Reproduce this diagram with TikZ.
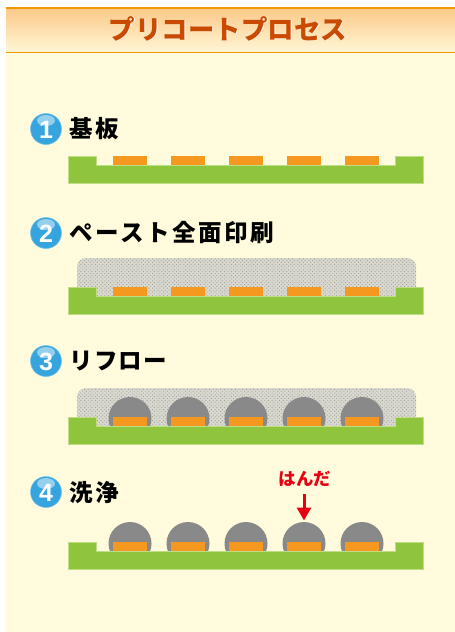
\documentclass[tikz,border=0pt]{standalone}
\usepackage{fontspec}
\setmainfont{Noto Sans CJK JP}
\newfontfamily\headfont[LetterSpace=9]{Noto Sans CJK JP}
\newfontfamily\headwide[LetterSpace=11]{Noto Sans CJK JP}
\newfontfamily\headtight[LetterSpace=6]{Noto Sans CJK JP}
\newfontfamily\numfont{Liberation Sans}
\usetikzlibrary{patterns.meta,arrows.meta}
\definecolor{panelbg}{HTML}{FFFBDC}
\definecolor{titleline}{HTML}{F39800}
\definecolor{titletop}{HTML}{FBC987}
\definecolor{titlebot}{HTML}{FFF6D6}
\definecolor{titletxt}{HTML}{C94A00}
\definecolor{board}{HTML}{8FC43D}
\definecolor{boardedge}{HTML}{BFDD85}
\definecolor{pad}{HTML}{F4981F}
\definecolor{solder}{HTML}{898989}
\definecolor{pastebg}{HTML}{DAD9CF}
\definecolor{pastedot}{HTML}{A2A29C}
\definecolor{badge}{HTML}{36A5DF}
\definecolor{badgehi}{HTML}{94CFEE}
\definecolor{arrowred}{HTML}{E60012}
\tikzset{
  heading/.style={anchor=west,font=\headfont\bfseries\fontsize{23.5}{23.5}\selectfont,text=black,inner sep=0pt},
  headingwide/.style={heading,font=\headwide\bfseries\fontsize{23.5}{23.5}\selectfont},
  headingtight/.style={heading,font=\headtight\bfseries\fontsize{23.5}{23.5}\selectfont},
  numbadge/.style={circle,minimum size=31pt,inner sep=0pt,fill=badge,draw=badge!70!white,line width=.5pt},
  boardfill/.style={fill=board,draw=boardedge,line width=.7pt},
  padfill/.style={fill=pad},
  domefill/.style={fill=solder},
  pastefill/.style={fill=pastebg},
  pastedots/.style={pattern={Dots[radius=.66pt,distance=2.6pt,angle=45]},pattern color=pastedot},
}
\newcommand{\boardat}[1]{%
  \draw[boardfill] (68,#1) -- (96,#1) -- (96,#1+9) -- (395,#1+9) -- (395,#1) -- (423,#1) -- (423,#1+27) -- (68,#1+27) -- cycle;
  \foreach \px in {113,171,229,287,345}
    \fill[padfill] (\px,#1) rectangle (\px+34,#1+8.6);
}
\newcommand{\pasteat}[1]{%
  \path[pastefill] (77,#1+38) -- (77,#1+9) arc[start angle=180,end angle=270,radius=9] -- (407,#1) arc[start angle=270,end angle=360,radius=9] -- (416,#1+38) -- cycle;
  \path[pastedots] (77,#1+38) -- (77,#1+9) arc[start angle=180,end angle=270,radius=9] -- (407,#1) arc[start angle=270,end angle=360,radius=9] -- (416,#1+38) -- cycle;
}
\newcommand{\domesat}[1]{%
  \foreach \cx in {130,188,246,304,362}
    \fill[domefill] (\cx,#1+21.5) circle[radius=21.5];
}
\newcommand{\badgeat}[3]{%
  \node[numbadge] (#1) at (46,#2) {};
  \fill[badgehi] (46,#2-8.5) ellipse[x radius=9,y radius=5.5];
  \node[text=white,inner sep=0pt,font=\numfont\bfseries\fontsize{25}{25}\selectfont] (#1n) at (46,#2+.5) {#3};
}
\begin{document}
\begin{tikzpicture}[x=1pt,y=-1pt]
\useasboundingbox (0,0) rectangle (455,632);
\fill[white] (0,0) rectangle (455,632);
\fill[panelbg] (6,7) rectangle (455,632);
\shade[top color=titletop,bottom color=titlebot] (6,8) rectangle (455,52);
\draw[titleline,line width=1.7pt] (6,7.8) -- (455,7.8);
\draw[titleline,line width=1.7pt] (6,52.5) -- (455,52.5);
\node[font=\bfseries\fontsize{26.5}{26.5}\selectfont,text=white,inner sep=0pt] (titleglow) at (228.8,29) {プリコートプロセス};
\node[font=\bfseries\fontsize{26.5}{26.5}\selectfont,text=titletxt,inner sep=0pt] (title) at (228,28.5) {プリコートプロセス};

\badgeat{b1}{129}{1}
\node[headingwide] (h1) at (69,128.5) {基板};
\boardat{156}

\badgeat{b2}{233}{2}
\node[headingwide] (h2) at (69,232.5) {ペースト全面印刷};
\pasteat{258}
\boardat{287}

\badgeat{b3}{361}{3}
\node[headingtight] (h3) at (69,361.5) {リフロー};
\pasteat{388}
\domesat{397}
\boardat{417}

\badgeat{b4}{492}{4}
\node[headingwide] (h4) at (69,492.5) {洗浄};
\domesat{522}
\boardat{542}

\coordinate (domeTop) at (304,520.5);
\node[font=\bfseries\fontsize{17.5}{17.5}\selectfont,text=arrowred,inner sep=0pt] (solderlabel) at (305,479) {はんだ};
\draw[arrowred,line width=3pt,-{Triangle[length=13pt,width=14pt]}] (304,494) -- (domeTop);
\end{tikzpicture}
\end{document}
